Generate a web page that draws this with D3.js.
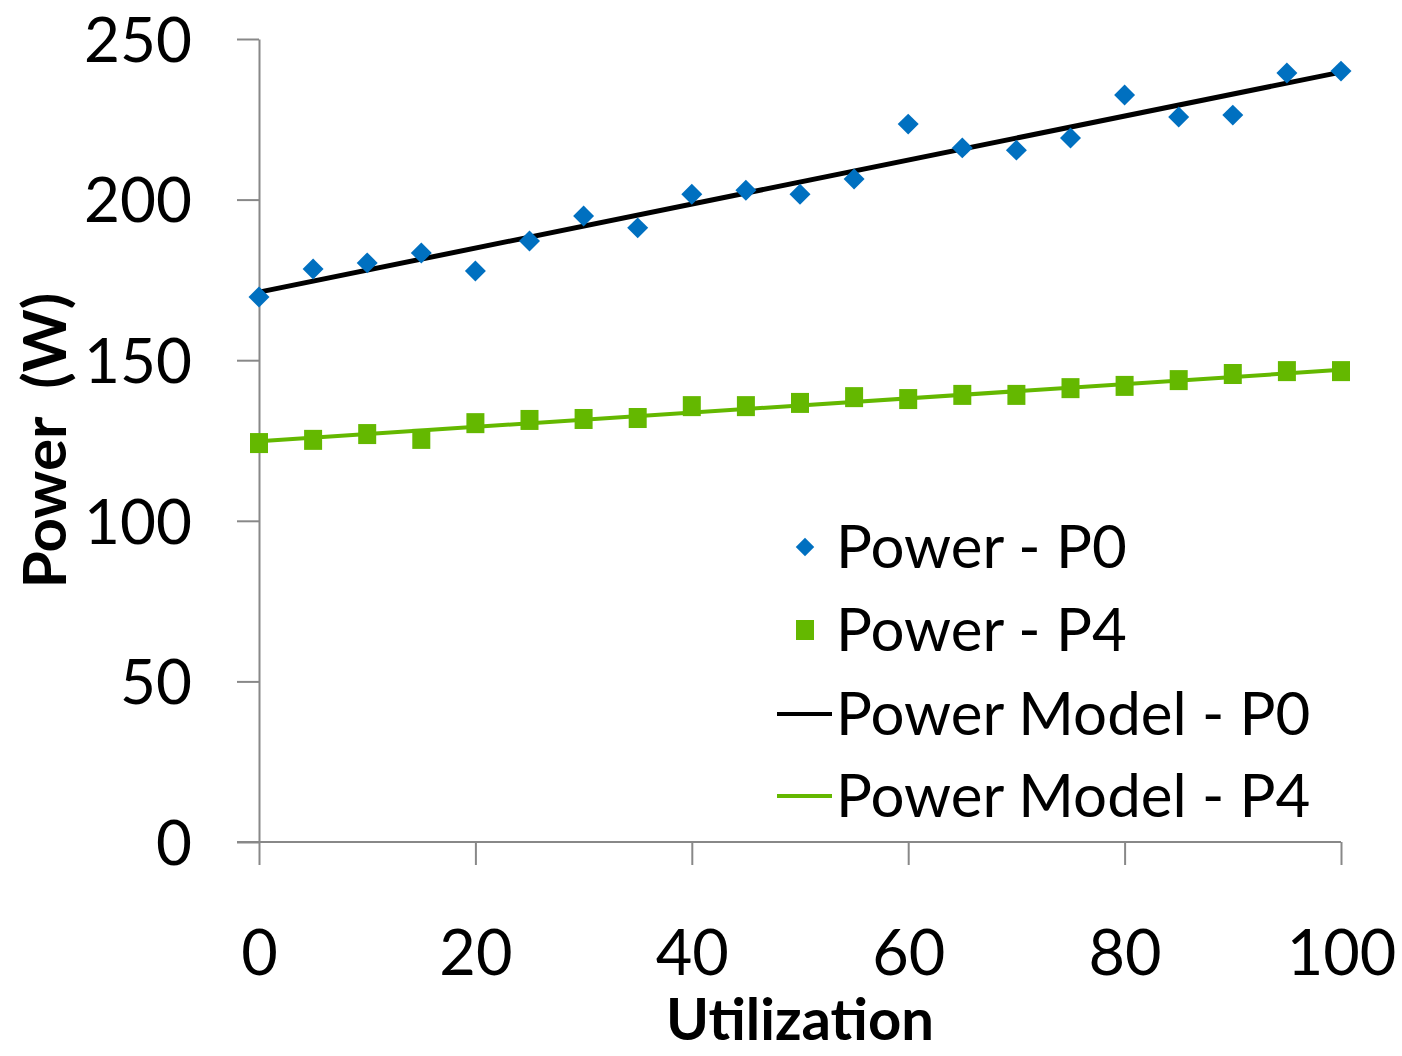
<!DOCTYPE html>
<html>
<head>
<meta charset="utf-8">
<script src="https://cdn.jsdelivr.net/npm/d3@7"></script>
<style>
  body { margin: 0; background: #fff; }
  svg text { font-family: "Lato", "DejaVu Sans", sans-serif; fill: #000; }
</style>
</head>
<body>
<div id="chart"></div>
<script>
// utilisation steps (x)
const utilization = [0, 5, 10, 15, 20, 25, 30, 35, 40, 45, 50, 55, 60, 65, 70, 75, 80, 85, 90, 95, 100];
// measured power, P0 state
const powerP0 = [169.7, 178.4, 180.3, 183.4, 177.8, 187.1, 194.9, 191.2, 201.7, 202.9, 201.7,
                 206.4, 223.5, 216.1, 215.4, 219.2, 232.6, 225.7, 226.3, 239.4, 240.0];
// measured power, P4 state
const powerP4 = [124.2, 125.2, 127.0, 125.5, 130.4, 131.4, 131.7, 132.0, 135.7, 135.7, 136.7,
                 138.5, 137.9, 139.2, 139.2, 141.3, 142.0, 143.8, 145.7, 146.6, 146.6];
// linear models (endpoints at 0 and 100)
const modelX = [0, 100];
const modelP0 = [171.2, 239.7];
const modelP4 = [124.8, 147.0];

const xTicks = [0, 20, 40, 60, 80, 100];
const yTicks = [0, 50, 100, 150, 200, 250];
const legendLabels = ["Power - P0", "Power - P4", "Power Model - P0", "Power Model - P4"];

const width = 1402, height = 1056;
const margin = {left: 259, right: 61, top: 39, bottom: 214};
const blue = "#0070C0", green = "#64B800", axisGrey = "#888888";

const svg = d3.select("#chart").append("svg")
    .attr("width", width)
    .attr("height", height);

const x = d3.scaleLinear().domain([0, 100]).range([margin.left, width - margin.right]);
const y = d3.scaleLinear().domain([0, 250]).range([height - margin.bottom, margin.top]);

// y axis
const yAxis = svg.append("g")
    .attr("transform", `translate(${margin.left},0)`)
    .call(d3.axisLeft(y).tickValues(yTicks).tickSizeInner(22).tickSizeOuter(0).tickPadding(45));
yAxis.select(".domain").attr("stroke", axisGrey).attr("stroke-width", 2);
yAxis.selectAll(".tick line").attr("stroke", axisGrey).attr("stroke-width", 2);
yAxis.selectAll(".tick text").attr("font-size", 62).attr("font-family", null).attr("dy", "0.36em");

// x axis
const xAxis = svg.append("g")
    .attr("transform", `translate(0,${y(0)})`)
    .call(d3.axisBottom(x).tickValues(xTicks).tickSizeInner(23).tickSizeOuter(0));
xAxis.select(".domain").attr("stroke", axisGrey).attr("stroke-width", 2)
    .attr("d", `M${margin.left - 22},0H${x(100)}`);
xAxis.selectAll(".tick line").attr("stroke", axisGrey).attr("stroke-width", 2);
xAxis.selectAll(".tick text").attr("font-size", 63).attr("font-family", null)
    .attr("y", 133).attr("dy", 0);

// axis titles
svg.append("text")
    .attr("x", x(50)).attr("y", 1040)
    .attr("text-anchor", "middle")
    .attr("font-size", 58).attr("font-weight", "bold")
    .text("Utilization");
svg.append("text")
    .attr("transform", `translate(66,${y(125)}) rotate(-90)`)
    .attr("text-anchor", "middle")
    .attr("font-size", 60).attr("font-weight", "bold")
    .style("white-space", "pre")
    .text("Power  (W)");

// model lines
const line = d3.line().x(d => x(d[0])).y(d => y(d[1]));
svg.append("path")
    .datum(modelX.map((v, i) => [v, modelP4[i]]))
    .attr("d", line).attr("fill", "none").attr("stroke", green).attr("stroke-width", 4);
svg.append("path")
    .datum(modelX.map((v, i) => [v, modelP0[i]]))
    .attr("d", line).attr("fill", "none").attr("stroke", "#000").attr("stroke-width", 5);

// markers
const diamond = d3.symbol().type(d3.symbolSquare).size(220);
svg.append("g").selectAll("path")
    .data(utilization.map((u, i) => [u, powerP0[i]]))
    .join("path")
    .attr("d", diamond)
    .attr("transform", d => `translate(${x(d[0])},${y(d[1])}) rotate(45)`)
    .attr("fill", blue);

svg.append("g").selectAll("rect")
    .data(utilization.map((u, i) => [u, powerP4[i]]))
    .join("rect")
    .attr("x", d => x(d[0]) - 9).attr("y", d => y(d[1]) - 10)
    .attr("width", 18).attr("height", 20)
    .attr("fill", green);

// legend
const legend = svg.append("g");
const legendY = [547, 630, 714, 796];
legendLabels.forEach((lab, i) => {
    const ly = legendY[i];
    if (i === 0) {
        legend.append("path").attr("d", d3.symbol().type(d3.symbolSquare).size(170))
            .attr("transform", `translate(805,${ly}) rotate(45)`).attr("fill", blue);
    } else if (i === 1) {
        legend.append("rect").attr("x", 796).attr("y", ly - 10).attr("width", 18).attr("height", 20)
            .attr("fill", green);
    } else {
        legend.append("line").attr("x1", 777).attr("x2", 832).attr("y1", ly).attr("y2", ly)
            .attr("stroke", i === 2 ? "#000" : green).attr("stroke-width", 4);
    }
    legend.append("text")
        .attr("x", 836).attr("y", ly + 21)
        .attr("font-size", 60)
        .text(lab);
});
</script>
</body>
</html>
